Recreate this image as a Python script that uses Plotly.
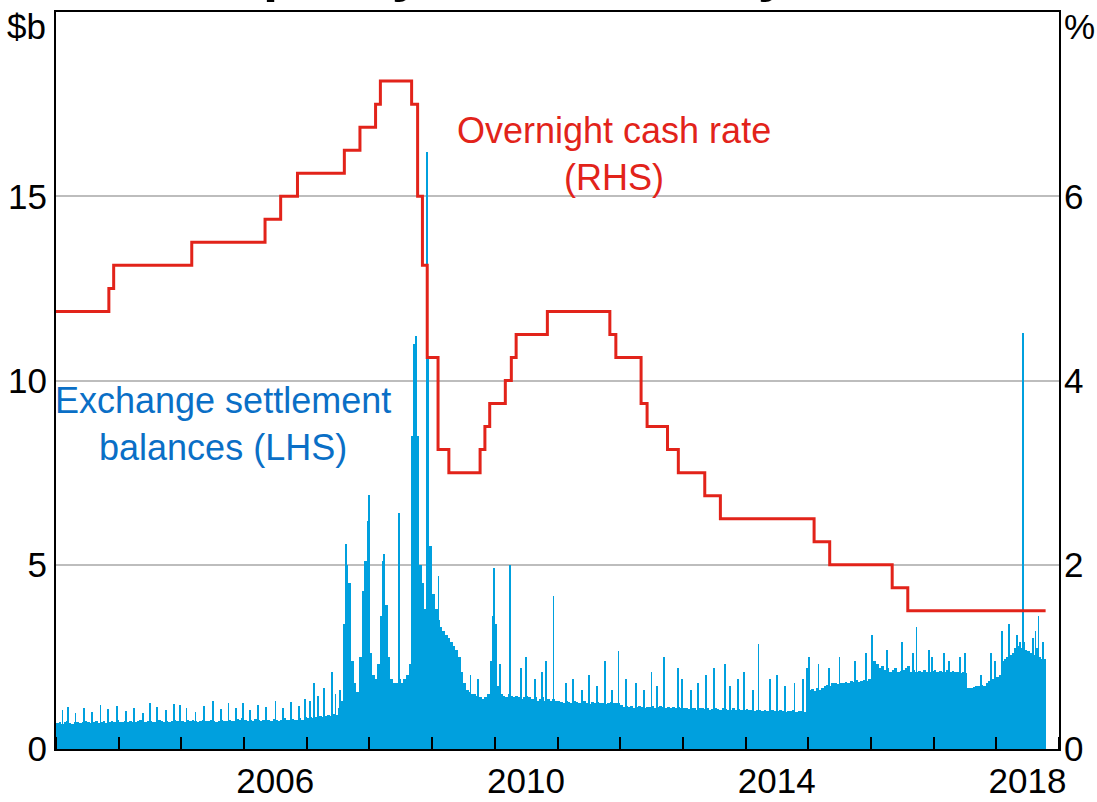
import pandas as pd
import plotly.graph_objects as go

# ---------------- DATA ----------------
# Exchange settlement balances ($b), semi-monthly (1st and 16th of each month)
esa_2003 = [0.70, 0.73, 0.68, 0.72, 0.75, 0.70, 0.69, 0.73, 0.74, 0.70, 0.72, 0.75,
            0.72, 0.70, 0.74, 0.76, 0.71, 0.73, 0.75, 0.70, 0.72, 0.77, 0.73, 0.79]
esa_2004 = [0.74, 0.72, 0.76, 0.73, 0.77, 0.74, 0.72, 0.75, 0.78, 0.74, 0.73, 0.77,
            0.75, 0.72, 0.74, 0.78, 0.75, 0.73, 0.77, 0.74, 0.75, 0.79, 0.76, 0.81]
esa_2005 = [0.76, 0.74, 0.78, 0.75, 0.79, 0.76, 0.74, 0.77, 0.80, 0.76, 0.75, 0.79,
            0.77, 0.74, 0.76, 0.80, 0.77, 0.75, 0.79, 0.76, 0.77, 0.81, 0.78, 0.83]
esa_2006 = [0.78, 0.76, 0.80, 0.77, 0.81, 0.78, 0.76, 0.79, 0.82, 0.78, 0.77, 0.81,
            0.79, 0.77, 0.80, 0.83, 0.79, 0.78, 0.82, 0.79, 0.80, 0.84, 0.80, 0.86]
esa_2007 = [0.84, 0.86, 0.85, 0.88, 0.86, 0.90, 0.87, 0.90, 0.92, 0.90, 0.95, 0.93,
            1.10, 1.30, 3.40, 5.00, 4.50, 2.40, 1.80, 1.55, 2.50, 4.30, 5.10, 6.20]
esa_2008 = [2.60, 2.00, 1.90, 2.30, 3.60, 5.10, 3.90, 2.50, 1.90, 1.80, 1.80, 1.90,
            1.80, 1.90, 2.00, 2.30, 8.50, 10.0, 8.50, 5.00, 4.50, 3.80, 9.00, 5.50]
esa_2009 = [4.20, 3.80, 3.50, 3.30, 3.20, 3.10, 3.00, 2.90, 2.80, 2.70, 2.50, 2.10,
            1.80, 1.60, 1.55, 1.50, 1.50, 1.45, 1.40, 1.35, 1.40, 1.50, 2.40, 3.60]
esa_2010 = [3.40, 1.70, 1.50, 1.45, 1.40, 1.50, 1.45, 1.40, 1.45, 1.40, 1.35, 1.40,
            1.45, 1.40, 1.35, 1.40, 1.30, 1.35, 1.40, 1.30, 1.35, 1.30, 1.35, 1.30]
esa_2011 = [1.30, 1.28, 1.25, 1.30, 1.27, 1.25, 1.30, 1.28, 1.25, 1.27, 1.30, 1.25,
            1.22, 1.27, 1.25, 1.28, 1.24, 1.26, 1.22, 1.25, 1.28, 1.24, 1.26, 1.25]
esa_2012 = [1.20, 1.15, 1.18, 1.14, 1.16, 1.12, 1.15, 1.18, 1.14, 1.12, 1.15, 1.13,
            1.16, 1.12, 1.14, 1.17, 1.13, 1.11, 1.14, 1.12, 1.15, 1.10, 1.13, 1.12]
esa_2013 = [1.12, 1.10, 1.08, 1.12, 1.10, 1.07, 1.10, 1.12, 1.08, 1.10, 1.06, 1.09,
            1.11, 1.08, 1.06, 1.10, 1.08, 1.05, 1.07, 1.10, 1.06, 1.08, 1.05, 1.07]
esa_2014 = [1.08, 1.05, 1.07, 1.04, 1.06, 1.05, 1.03, 1.06, 1.04, 1.07, 1.05, 1.03,
            1.02, 1.05, 1.04, 1.00, 1.03, 1.02, 1.05, 1.00, 1.02, 1.03, 1.00, 0.98]
esa_2015 = [1.60, 1.62, 1.58, 1.65, 1.60, 1.66, 1.70, 1.75, 1.72, 1.78, 1.80, 1.76,
            1.80, 1.78, 1.82, 1.80, 1.85, 1.82, 1.86, 1.83, 1.85, 1.88, 1.84, 1.90]
esa_2016 = [2.50, 2.40, 2.30, 2.20, 2.25, 2.15, 2.20, 2.10, 2.15, 2.20, 2.10, 2.12,
            2.15, 2.20, 2.25, 2.10, 2.15, 2.10, 2.12, 2.10, 2.15, 2.10, 2.08, 2.12]
esa_2017 = [2.15, 2.10, 2.12, 2.08, 2.10, 2.15, 2.10, 2.12, 2.08, 2.10, 2.05, 2.10,
            2.05, 1.65, 1.66, 1.68, 1.70, 1.72, 1.75, 1.70, 1.80, 1.85, 1.90, 1.92]
esa_2018 = [1.95, 2.00, 2.40, 2.45, 2.50, 2.55, 2.60, 2.75, 2.80, 2.75, 2.90, 2.70,
            2.65, 2.60, 2.55, 2.75, 2.50, 2.45, 2.45]

# Short-lived daily peaks in balances ($b)
spike_dates_2003_07 = ["2003-02-05", "2003-03-10", "2003-04-22", "2003-06-10", "2003-07-28",
                       "2003-09-15", "2003-10-30", "2003-12-18", "2004-02-12", "2004-03-30",
                       "2004-05-17", "2004-06-30", "2004-08-09", "2004-09-28", "2004-11-15",
                       "2004-12-20", "2005-01-28", "2005-03-21", "2005-05-09", "2005-06-30",
                       "2005-08-15", "2005-09-30", "2005-11-10", "2005-12-22", "2006-01-31",
                       "2006-03-20", "2006-05-08", "2006-06-30", "2006-08-14", "2006-09-29",
                       "2006-11-13", "2006-12-20", "2007-01-15", "2007-02-10", "2007-03-05",
                       "2007-04-10", "2007-05-25", "2007-06-15", "2007-07-10"]
spike_values_2003_07 = [1.05, 1.15, 0.98, 1.12, 1.00,
                        1.20, 1.08, 1.18, 1.02, 1.10,
                        0.97, 1.25, 1.15, 1.05, 1.22,
                        1.20, 1.12, 1.00, 1.18, 1.30,
                        1.08, 1.25, 1.10, 1.25, 1.05,
                        1.20, 1.15, 1.30, 1.10, 1.28,
                        1.18, 1.35, 1.30, 1.80, 1.45,
                        1.66, 2.10, 1.50, 1.60]
spike_dates_2007_10 = ["2007-08-13", "2007-12-28", "2008-03-25", "2008-06-21", "2008-09-12",
                       "2008-09-25", "2008-11-28", "2008-12-05", "2009-02-04", "2009-08-10",
                       "2009-09-20", "2009-12-24", "2010-01-28", "2010-03-28", "2010-05-31",
                       "2010-06-30", "2010-08-20", "2010-09-30", "2010-10-25", "2010-12-06"]
spike_values_2007_10 = [5.56, 6.90, 5.30, 6.40, 11.0,
                        11.2, 16.2, 10.6, 4.70, 2.00,
                        1.90, 4.90, 2.30, 5.00, 2.20,
                        2.50, 1.90, 2.10, 2.40, 4.15]
spike_dates_2011_14 = ["2011-02-15", "2011-03-31", "2011-05-20", "2011-06-30", "2011-08-15",
                       "2011-09-30", "2011-11-10", "2011-12-20", "2012-01-31", "2012-03-30",
                       "2012-05-15", "2012-06-29", "2012-07-31", "2012-09-10", "2012-11-30",
                       "2012-12-24", "2013-02-15", "2013-03-28", "2013-05-15", "2013-06-28",
                       "2013-08-30", "2013-09-30", "2013-11-15", "2013-12-20", "2014-02-10",
                       "2014-03-15", "2014-05-20", "2014-06-30", "2014-08-15", "2014-10-10",
                       "2014-11-28", "2014-12-23"]
spike_values_2011_14 = [1.80, 1.90, 1.60, 2.00, 1.70,
                        2.40, 1.60, 2.66, 1.90, 1.80,
                        1.60, 2.10, 1.70, 2.50, 2.20,
                        1.90, 1.60, 1.80, 2.00, 2.20,
                        2.30, 1.70, 1.90, 2.10, 1.60,
                        2.85, 1.90, 2.00, 1.70, 1.80,
                        1.90, 2.20]
spike_dates_2015_18 = ["2015-01-05", "2015-02-27", "2015-04-30", "2015-06-30", "2015-09-30",
                       "2015-11-30", "2016-01-05", "2016-03-31", "2016-06-30", "2016-08-31",
                       "2016-09-20", "2016-11-30", "2016-12-22", "2017-02-28", "2017-03-31",
                       "2017-05-31", "2017-06-30", "2017-09-29", "2017-11-30", "2017-12-21",
                       "2018-01-31", "2018-03-15", "2018-04-30", "2018-05-15", "2018-06-01",
                       "2018-07-31", "2018-08-15", "2018-09-01", "2018-09-28"]
spike_values_2015_18 = [2.50, 2.30, 2.20, 2.50, 2.40,
                        2.60, 3.10, 2.70, 2.90, 2.60,
                        3.30, 2.70, 2.50, 2.60, 2.40,
                        2.50, 2.60, 2.00, 2.60, 2.40,
                        3.20, 3.40, 3.10, 2.90, 11.3,
                        3.00, 3.20, 3.60, 2.90]

# Overnight cash rate (%), effective change dates
rate_dates = ["2003-01-01", "2003-11-05", "2003-12-03", "2005-03-02", "2006-05-03",
              "2006-08-02", "2006-11-08", "2007-08-08", "2007-11-07", "2008-02-06",
              "2008-03-05", "2008-09-03", "2008-10-08", "2008-11-05", "2008-12-03",
              "2009-02-04", "2009-04-08", "2009-10-07", "2009-11-04", "2009-12-02",
              "2010-03-03", "2010-04-07", "2010-05-05", "2010-11-03", "2011-11-02",
              "2011-12-07", "2012-05-02", "2012-06-06", "2012-10-03", "2012-12-05",
              "2013-05-08", "2013-08-07", "2015-02-04", "2015-05-06", "2016-05-04",
              "2016-08-03", "2018-10-15"]
rate_values = [4.75, 5.00, 5.25, 5.50, 5.75,
               6.00, 6.25, 6.50, 6.75, 7.00,
               7.25, 7.00, 6.00, 5.25, 4.25,
               3.25, 3.00, 3.25, 3.50, 3.75,
               4.00, 4.25, 4.50, 4.75, 4.50,
               4.25, 3.75, 3.50, 3.25, 3.00,
               2.75, 2.50, 2.25, 2.00, 1.75,
               1.50, 1.50]

year_labels = ["2006", "2010", "2014", "2018"]
left_ticks = [0, 5, 10, 15]
right_ticks = [0, 2, 4, 6]

# ---------------- BUILD ----------------
esa_values = (esa_2003 + esa_2004 + esa_2005 + esa_2006 + esa_2007 + esa_2008 +
              esa_2009 + esa_2010 + esa_2011 + esa_2012 + esa_2013 + esa_2014 +
              esa_2015 + esa_2016 + esa_2017 + esa_2018)
months = pd.date_range("2003-01-01", periods=(len(esa_values) + 1) // 2 + 1, freq="MS")
periods = []
for m in months:
    periods.append(m)
    periods.append(m + pd.Timedelta(days=15))
periods = periods[:len(esa_values) + 1]
esa_dates = periods[:-1]
esa_widths = [(periods[i + 1] - periods[i]).total_seconds() * 1000 for i in range(len(esa_values))]

spike_dates = spike_dates_2003_07 + spike_dates_2007_10 + spike_dates_2011_14 + spike_dates_2015_18
spike_values = spike_values_2003_07 + spike_values_2007_10 + spike_values_2011_14 + spike_values_2015_18

BLUE = "#00A0DE"
RED = "#E2231A"
TEXT_BLUE = "#0A6FC6"
FONT = "Liberation Sans, Arial, sans-serif"
TICK = 35

fig = go.Figure()
fig.add_trace(go.Bar(x=esa_dates, y=esa_values, width=esa_widths, offset=0,
                     marker=dict(color=BLUE, line=dict(width=0)), showlegend=False))
fig.add_trace(go.Bar(x=pd.to_datetime(spike_dates), y=spike_values, width=5 * 86400000,
                     offset=0, marker=dict(color=BLUE, line=dict(width=0)), showlegend=False))
fig.add_trace(go.Scatter(x=rate_dates, y=rate_values, mode="lines", yaxis="y2",
                         line=dict(color=RED, width=3, shape="hv"), showlegend=False))

fig.update_layout(
    width=1097, height=802,
    margin=dict(l=56, r=38, t=12, b=53),
    paper_bgcolor="white", plot_bgcolor="white",
    barmode="overlay", bargap=0,
    font=dict(family=FONT, size=TICK, color="black"),
    xaxis=dict(type="date", range=["2003-01-01", "2019-01-01"], automargin=False,
               tickmode="array",
               tickvals=[y + "-07-01" for y in year_labels], ticktext=year_labels,
               ticks="", showgrid=False, zeroline=False,
               showline=True, linecolor="black", linewidth=2, mirror=True,
               tickfont=dict(size=TICK),
               minor=dict(tick0="2003-01-01", dtick="M12", ticks="inside",
                          ticklen=12, tickwidth=2, tickcolor="black", showgrid=False)),
    yaxis=dict(range=[0, 20], tickmode="array", tickvals=left_ticks, automargin=False,
               ticktext=[str(v) for v in left_ticks],
               showgrid=True, gridcolor="#BDBDBD", gridwidth=1.5,
               zeroline=False, showline=True, linecolor="black", linewidth=2,
               ticks="", tickfont=dict(size=TICK), ticklabelstandoff=0),
    yaxis2=dict(range=[0, 8], overlaying="y", side="right", tickmode="array",
                tickvals=right_ticks, ticktext=[str(v) for v in right_ticks],
                automargin=False,
                showgrid=False, zeroline=False, showline=True, linecolor="black",
                linewidth=2, ticks="", tickfont=dict(size=TICK), ticklabelstandoff=-4),
)

annotations = [
    dict(text="$b", xref="paper", yref="paper", x=0, y=0.981, xanchor="right",
         yanchor="middle", showarrow=False, xshift=-8, font=dict(size=TICK)),
    dict(text="%", xref="paper", yref="paper", x=1, y=0.981, xanchor="left",
         yanchor="middle", showarrow=False, xshift=3, font=dict(size=TICK)),
    dict(text="Overnight cash rate<br>(RHS)", xref="paper", yref="paper",
         x=0.556, y=0.808, xanchor="center", yanchor="middle", showarrow=False,
         align="center", font=dict(size=36, color=RED)),
    dict(text="Exchange settlement<br>balances (LHS)", xref="paper", yref="paper",
         x=0.1665, y=0.441, xanchor="center", yanchor="middle", showarrow=False,
         align="center", font=dict(size=36, color=TEXT_BLUE)),
    dict(text="<b>Liquidity and Monetary</b>", xref="paper", yref="paper",
         x=0.1386, y=1.054, xanchor="left", yanchor="middle", showarrow=False,
         font=dict(size=54, color="black")),
]
fig.update_layout(annotations=annotations)

# remove the browser's default page margin so the 1097x802 figure fills the window
fig.write_html("out.html", config={"displayModeBar": False},
               post_script="document.body.style.margin='0';")
